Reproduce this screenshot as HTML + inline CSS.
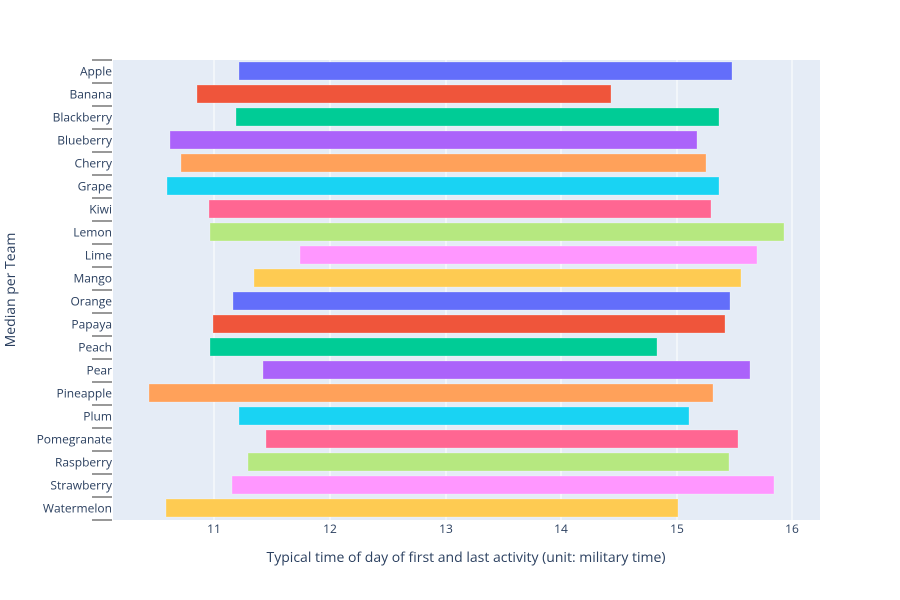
<!DOCTYPE html>
<html><head><style>body{margin:0;background:#fff}svg{display:block}</style></head><body>
<svg width="900" height="600" xmlns="http://www.w3.org/2000/svg" font-family="'Open Sans','Liberation Sans',sans-serif">
<rect x="113" y="60" width="707" height="460" fill="#e5ecf6"/>
<g stroke="#fff" stroke-width="1">
<line x1="214" y1="60" x2="214" y2="520"/><line x1="330" y1="60" x2="330" y2="520"/><line x1="446" y1="60" x2="446" y2="520"/><line x1="561" y1="60" x2="561" y2="520"/><line x1="677" y1="60" x2="677" y2="520"/><line x1="792" y1="60" x2="792" y2="520"/>
</g>
<g id="bars" stroke-opacity="0.5" stroke="#fff" stroke-width="0.5"></g>
<g id="ticks" stroke="#999" stroke-width="2"></g>
<g id="labels" font-size="12" fill="#2a3f5f" text-anchor="end"></g>
<g font-size="12" fill="#2a3f5f" text-anchor="middle">
<text x="214" y="533">11</text><text x="330" y="533">12</text><text x="446" y="533">13</text><text x="561" y="533">14</text><text x="677" y="533">15</text><text x="792" y="533">16</text>
</g>
<text x="466" y="562" font-size="14" fill="#2a3f5f" text-anchor="middle">Typical time of day of first and last activity (unit: military time)</text>
<text transform="translate(15,290) rotate(-90)" font-size="14" fill="#2a3f5f" text-anchor="middle">Median per Team</text>
<script>
var d=[["Apple",239,732],["Banana",197,611],["Blackberry",236,719],["Blueberry",170,697],["Cherry",181,706],["Grape",167,719],["Kiwi",209,711],["Lemon",210,784],["Lime",300,757],["Mango",254,741],["Orange",233,730],["Papaya",213,725],["Peach",210,657],["Pear",263,750],["Pineapple",149,713],["Plum",239,689],["Pomegranate",266,738],["Raspberry",248,729],["Strawberry",232,774],["Watermelon",166,678]];
var c=["#636efa","#EF553B","#00cc96","#ab63fa","#FFA15A","#19d3f3","#FF6692","#B6E880","#FF97FF","#FECB52"];
var ns="http://www.w3.org/2000/svg",b=document.getElementById("bars"),t=document.getElementById("ticks"),l=document.getElementById("labels");
function el(p,n,a,tx){var e=document.createElementNS(ns,n);for(var k in a)e.setAttribute(k,a[k]);if(tx)e.textContent=tx;p.appendChild(e);}
d.forEach(function(r,i){var y=71+23*i;el(b,"rect",{x:r[1],y:y-9,width:r[2]-r[1],height:18,fill:c[i%10]});el(l,"text",{x:112,y:y+4.5},r[0]);});
for(var k=0;k<=20;k++){var y=60+23*k;el(t,"line",{x1:92,x2:112,y1:y,y2:y});}
</script>
</svg>
</body></html>
